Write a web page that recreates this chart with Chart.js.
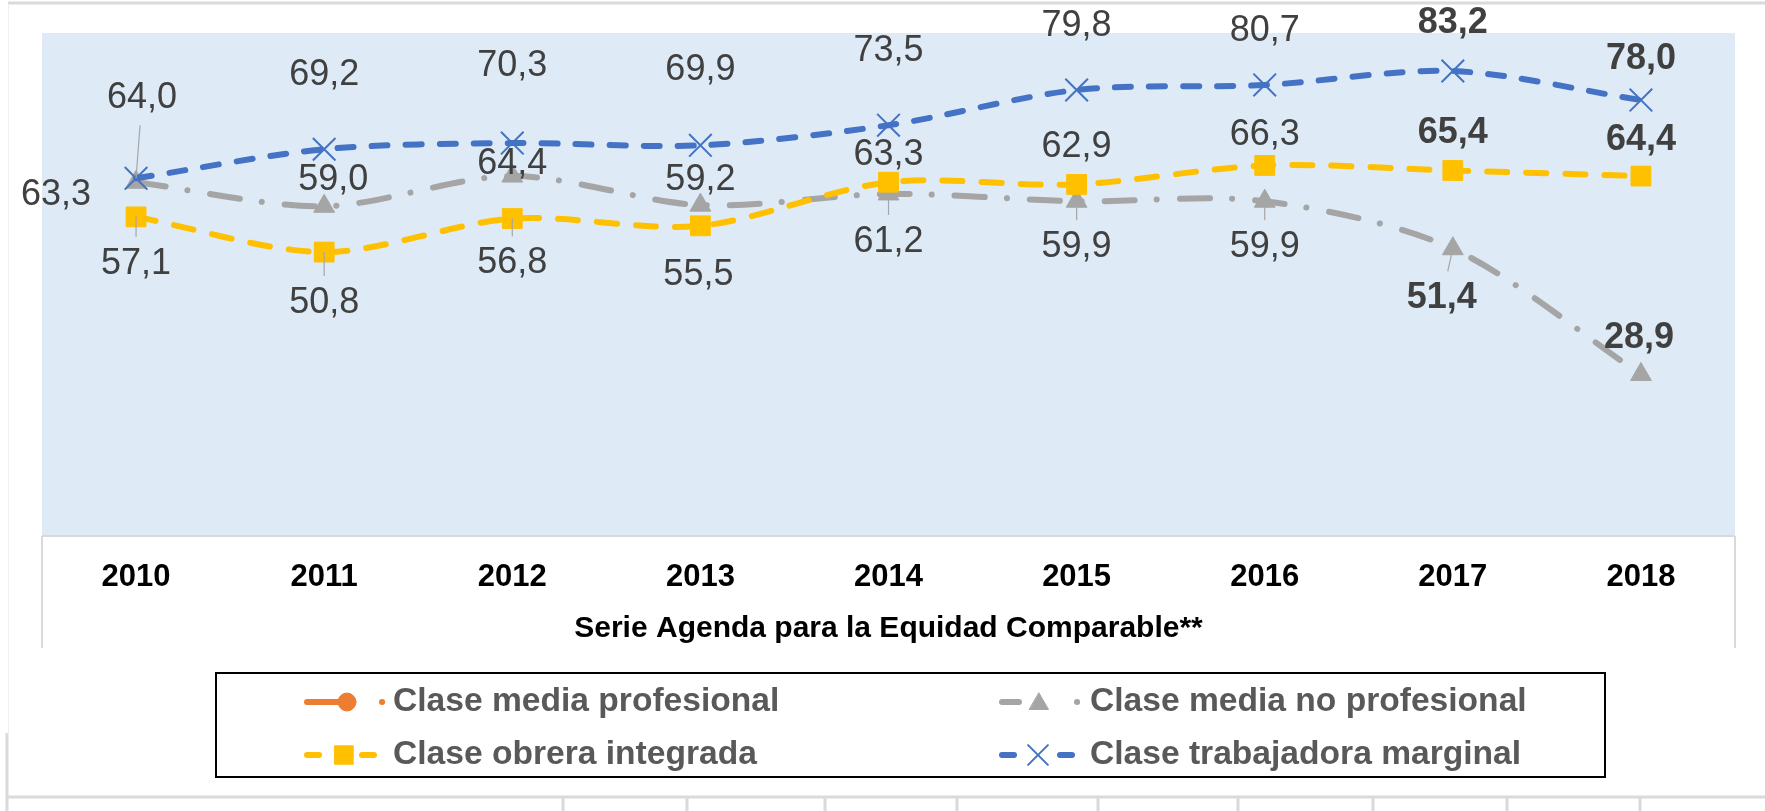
<!DOCTYPE html>
<html>
<head>
<meta charset="utf-8">
<script src="https://cdn.jsdelivr.net/npm/chart.js@4"></script>
<style>
  html, body { margin: 0; padding: 0; background: #fff; }
  #wrap { width: 1765px; height: 811px; }
</style>
</head>
<body>
<div id="wrap"><canvas id="grafico" width="1765" height="811"></canvas></div>
<script>
// datos
const anios = ["2010", "2011", "2012", "2013", "2014", "2015", "2016", "2017", "2018"];
const mediaProfesional = [null, null, null, null, null, null, null, null, null];
const mediaNoProfesional = [63.3, 59.0, 64.4, 59.2, 61.2, 59.9, 59.9, 51.4, 28.9];
const obreraIntegrada = [57.1, 50.8, 56.8, 55.5, 63.3, 62.9, 66.3, 65.4, 64.4];
const trabajadoraMarginal = [64.0, 69.2, 70.3, 69.9, 73.5, 79.8, 80.7, 83.2, 78.0];
const series = ["Clase media profesional", "Clase media no profesional", "Clase obrera integrada", "Clase trabajadora marginal"];
const tituloEje = "Serie Agenda para la Equidad Comparable**";

// posicion de las etiquetas respecto al punto (dx, dy)
const despGris = [[-80, 13], [9, -26], [0, -12], [0, -25], [0, 48], [0, 46], [0, 46], [-11, 49], [-2, -36]];
const despAmarillo = [[0, 47], [0, 51], [0, 45], [-2, 49], [0, -27], [0, -37], [0, -30], [0, -37], [0, -36]];
const despAzul = [[6, -80], [0, -74], [0, -77], [0, -75], [0, -74], [0, -64], [0, -54], [0, -48], [0, -41]];
const guiasGris = [4, 5, 6, 7];
const guiasAmarillo = [0, 1, 2];
const guiasAzul = [0];
const negritas = [7, 8];

const FUENTE = "'Liberation Sans', Arial, sans-serif";
const NARANJA = "#ED7D31", GRIS = "#A5A5A5", AMARILLO = "#FFC000", AZUL = "#4472C4";

const fondo = {
  id: "fondo",
  beforeDraw(chart) {
    const { ctx, chartArea: a } = chart;
    ctx.save();
    ctx.fillStyle = "#fff";
    ctx.fillRect(0, 0, chart.width, chart.height);
    // lineas de la hoja
    ctx.strokeStyle = "#DADADA";
    ctx.lineWidth = 3;
    ctx.beginPath();
    ctx.moveTo(8, 3); ctx.lineTo(chart.width, 3);
    ctx.moveTo(7, 733); ctx.lineTo(7, chart.height);
    ctx.moveTo(7, 797); ctx.lineTo(chart.width, 797);
    [563, 687, 825, 957, 1098, 1238, 1373, 1507, 1640].forEach(x => {
      ctx.moveTo(x, 797); ctx.lineTo(x, chart.height);
    });
    ctx.stroke();
    ctx.strokeStyle = "#EFEFEF";
    ctx.lineWidth = 1;
    ctx.beginPath();
    ctx.moveTo(8.5, 4); ctx.lineTo(8.5, 733);
    ctx.stroke();
    // area de trazado
    ctx.fillStyle = "#DEEBF7";
    ctx.fillRect(a.left, a.top, a.right - a.left, a.bottom - a.top);
    // caja del eje de categorias
    ctx.strokeStyle = "#D9D9D9";
    ctx.lineWidth = 2;
    ctx.beginPath();
    ctx.moveTo(a.left, a.bottom); ctx.lineTo(a.right, a.bottom);
    ctx.moveTo(a.left, a.bottom); ctx.lineTo(a.left, a.bottom + 112);
    ctx.moveTo(a.right, a.bottom); ctx.lineTo(a.right, a.bottom + 112);
    ctx.stroke();
    ctx.restore();
  }
};

const etiquetas = {
  id: "etiquetas",
  afterDatasetsDraw(chart) {
    const ctx = chart.ctx;
    const conf = [
      { ds: 1, desp: despGris, guias: guiasGris },
      { ds: 2, desp: despAmarillo, guias: guiasAmarillo },
      { ds: 3, desp: despAzul, guias: guiasAzul }
    ];
    ctx.save();
    conf.forEach(c => {
      const meta = chart.getDatasetMeta(c.ds);
      const valores = chart.data.datasets[c.ds].data;
      meta.data.forEach((pt, i) => {
        if (valores[i] == null) return;
        const lx = pt.x + c.desp[i][0], ly = pt.y + c.desp[i][1];
        if (c.guias.includes(i)) {
          const dx = lx - pt.x, dy = ly - pt.y;
          const d = Math.hypot(dx, dy);
          const f = (d - 27) / d;
          ctx.strokeStyle = "#A6A6A6";
          ctx.lineWidth = 1.2;
          ctx.beginPath();
          ctx.moveTo(pt.x, pt.y);
          ctx.lineTo(pt.x + dx * f, pt.y + dy * f);
          ctx.stroke();
        }
        ctx.font = (negritas.includes(i) ? "bold " : "") + "36px " + FUENTE;
        ctx.fillStyle = "#404040";
        ctx.textAlign = "center";
        ctx.textBaseline = "middle";
        ctx.fillText(valores[i].toFixed(1).replace(".", ","), lx, ly);
      });
    });
    ctx.restore();
  }
};

const leyenda = {
  id: "leyenda",
  afterDraw(chart) {
    const ctx = chart.ctx;
    const H = Chart.helpers;
    ctx.save();
    ctx.strokeStyle = "#000";
    ctx.lineWidth = 2;
    ctx.strokeRect(216, 673, 1389, 104);
    ctx.lineCap = "round";
    const linea = (color, x1, x2, y) => {
      ctx.strokeStyle = color; ctx.lineWidth = 6;
      ctx.beginPath(); ctx.moveTo(x1, y); ctx.lineTo(x2, y); ctx.stroke();
    };
    const punto = (ds, r, x, y) => {
      const d = chart.data.datasets[ds];
      ctx.fillStyle = d.pointBackgroundColor;
      ctx.strokeStyle = d.pointBorderColor;
      ctx.lineWidth = d.pointBorderWidth;
      H.drawPoint(ctx, { pointStyle: d.pointStyle, rotation: 0, radius: r, borderWidth: d.pointBorderWidth }, x, y);
    };
    const y1 = 702, y2 = 755;
    // clase media profesional
    linea(NARANJA, 307, 340, y1);
    punto(0, 9, 347, y1);
    linea(NARANJA, 382, 382.1, y1);
    // clase obrera integrada
    linea(AMARILLO, 307, 319, y2);
    punto(2, 13, 344, y2);
    linea(AMARILLO, 362, 374, y2);
    // clase media no profesional
    linea(GRIS, 1002, 1019, y1);
    punto(1, 11, 1039, y1 + 2);
    linea(GRIS, 1077, 1077.1, y1);
    // clase trabajadora marginal
    linea(AZUL, 1002, 1014, y2);
    punto(3, 14, 1038, y2);
    linea(AZUL, 1060, 1072, y2);
    ctx.font = "bold 33.6px " + FUENTE;
    ctx.fillStyle = "#595959";
    ctx.textAlign = "left";
    ctx.textBaseline = "middle";
    ctx.fillText(series[0], 393, y1);
    ctx.fillText(series[2], 393, y2);
    ctx.fillText(series[1], 1090, y1);
    ctx.fillText(series[3], 1090, y2);
    ctx.restore();
  }
};

new Chart(document.getElementById("grafico"), {
  type: "line",
  data: {
    labels: anios,
    datasets: [
      {
        label: series[0],
        data: mediaProfesional,
        borderColor: NARANJA,
        backgroundColor: NARANJA,
        borderWidth: 6,
        pointStyle: "circle",
        pointRadius: 9,
        pointBackgroundColor: NARANJA,
        pointBorderColor: NARANJA,
        pointBorderWidth: 1,
        order: 4
      },
      {
        label: series[1],
        data: mediaNoProfesional,
        borderColor: GRIS,
        backgroundColor: GRIS,
        borderWidth: 6,
        borderDash: [30, 22, 0.1, 23],
        borderCapStyle: "round",
        pointStyle: "triangle",
        pointRadius: 12,
        pointBackgroundColor: GRIS,
        pointBorderColor: GRIS,
        pointBorderWidth: 1,
        order: 3
      },
      {
        label: series[2],
        data: obreraIntegrada,
        borderColor: AMARILLO,
        backgroundColor: AMARILLO,
        borderWidth: 6,
        borderDash: [20, 19],
        borderCapStyle: "round",
        pointStyle: "rect",
        pointRadius: 14,
        pointBackgroundColor: AMARILLO,
        pointBorderColor: AMARILLO,
        pointBorderWidth: 1,
        order: 2
      },
      {
        label: series[3],
        data: trabajadoraMarginal,
        borderColor: AZUL,
        backgroundColor: AZUL,
        borderWidth: 6,
        borderDash: [16, 18],
        borderCapStyle: "round",
        pointStyle: "crossRot",
        pointRadius: 16,
        pointBackgroundColor: AZUL,
        pointBorderColor: AZUL,
        pointBorderWidth: 2,
        order: 1
      }
    ]
  },
  options: {
    responsive: false,
    animation: false,
    devicePixelRatio: 1,
    layout: { padding: { left: 42, right: 30, top: 33, bottom: 163 } },
    elements: { line: { tension: 0.3 } },
    plugins: {
      legend: { display: false },
      tooltip: { enabled: false },
      title: { display: false }
    },
    scales: {
      x: {
        offset: true,
        grid: { display: false, drawTicks: false },
        border: { display: false },
        ticks: {
          color: "#000",
          font: { family: FUENTE, size: 31, weight: "bold" },
          padding: 23,
          maxRotation: 0,
          autoSkip: false
        },
        title: {
          display: true,
          text: tituloEje,
          color: "#000",
          font: { family: FUENTE, size: 30, weight: "bold" },
          padding: { top: 0, bottom: 1 }
        },
        afterFit(scale) { scale.height = 112; }
      },
      y: { display: false, min: 0, max: 90 }
    }
  },
  plugins: [fondo, etiquetas, leyenda]
});
</script>
</body>
</html>
